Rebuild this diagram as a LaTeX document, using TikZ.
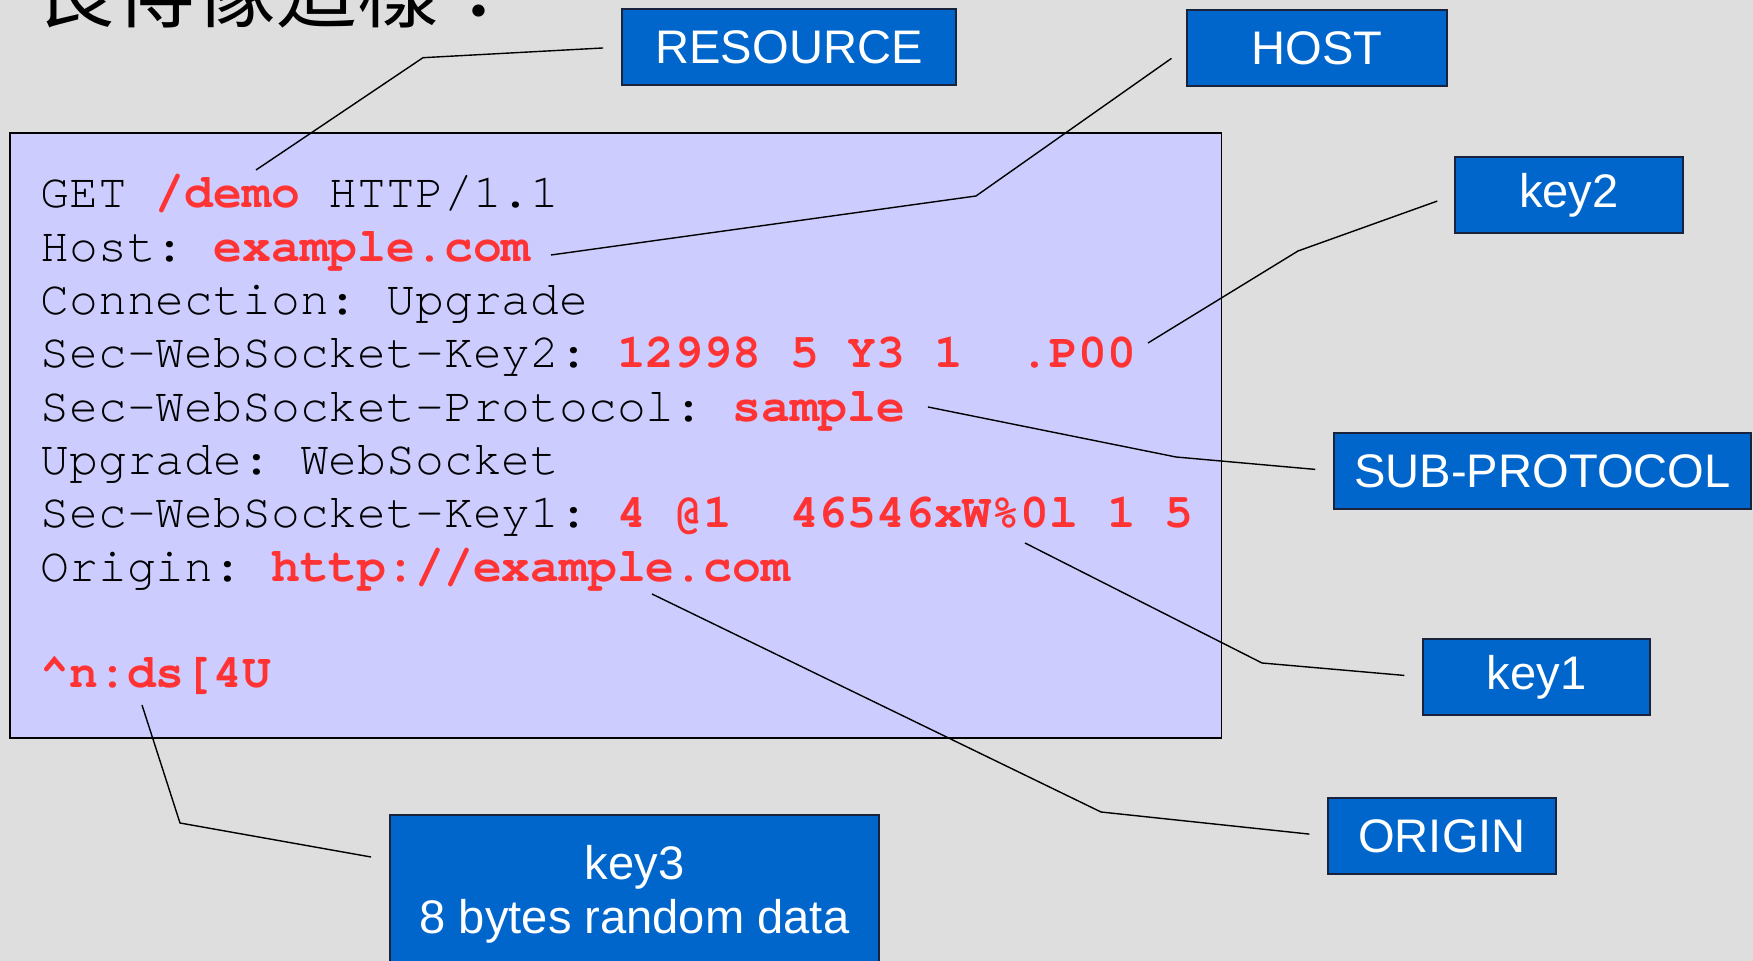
\documentclass[tikz,border=0pt]{standalone}
\usepackage{fontspec}
\setmainfont{Liberation Sans}
\setmonofont{TeX Gyre Cursor}
\newfontfamily\cjk{Noto Sans CJK TC}
\definecolor{slidebg}{RGB}{222,222,222}
\definecolor{codebg}{RGB}{204,204,255}
\definecolor{tagblue}{RGB}{0,102,204}
\definecolor{tagedge}{RGB}{25,35,60}
\definecolor{hdrred}{RGB}{255,51,51}
\newcommand{\val}[1]{\textcolor{hdrred}{\bfseries #1}}
\tikzset{code/.style = {anchor=base west, inner sep=0pt,
                        font=\ttfamily\fontsize{13.66}{15.2}\selectfont},
         tag/.style = {draw=tagedge, fill=tagblue, text=white, inner sep=0pt,
                       minimum height=0.76cm, font=\fontsize{13.4}{15.4}\selectfont},
         callout/.style = {line width=0.4pt, shorten >=0.18cm}}

\begin{document}
\begin{tikzpicture}[x=0.01cm, y=-0.01cm]
    \useasboundingbox (0,0) rectangle (1753,961);
    \fill[slidebg] (0,0) rectangle (1753,961);

    \node[anchor=base west, inner sep=0pt, font=\cjk\fontsize{23}{27}\selectfont] (title) at (33,22) {長得像這樣：};

    \node[draw=black, line width=0.5pt, fill=codebg, inner sep=0pt, anchor=north west,
          minimum width=12.11cm, minimum height=6.05cm] (req) at (9,132) {};

    \node[code] (lget) at (40,208) {GET \val{/demo} HTTP/1.1};
    \node[code] (lhost) at (40,261.3) {Host: \val{example.com}};
    \node[code] (lconn) at (40,314.7) {Connection: Upgrade};
    \node[code] (lkey2) at (40,368) {Sec-WebSocket-Key2: \val{12998 5 Y3 1~~.P00}};
    \node[code] (lproto) at (40,421.3) {Sec-WebSocket-Protocol: \val{sample}};
    \node[code] (lupgrade) at (40,474.7) {Upgrade: WebSocket};
    \node[code] (lkey1) at (40,528) {Sec-WebSocket-Key1: \val{4 @1~~46546xW\%0l 1 5}};
    \node[code] (lorigin) at (40,581.3) {Origin: \val{http://example.com}};
    \node[code] (lkey3) at (40,688) {\val{\textasciicircum n:ds[4U}};

    \node[tag, minimum width=3.34cm] (resource) at (789,47) {RESOURCE};
    \node[tag, minimum width=2.60cm] (host) at (1317,48) {HOST};
    \node[tag, minimum width=2.28cm] (key2) at (1569,195) {key2};
    \node[tag, minimum width=4.17cm] (subproto) at (1542.5,471) {SUB-PROTOCOL};
    \node[tag, minimum width=2.27cm] (key1) at (1536.5,677) {key1};
    \node[tag, minimum width=2.28cm] (origin) at (1442,836) {ORIGIN};
    \node[tag, minimum width=4.89cm, minimum height=1.58cm, align=center] (key3) at (634.5,894)
        {key3\\8 bytes random data};

    \coordinate (cres) at (256,170);
    \coordinate (chost) at (551,255);
    \coordinate (ckey2) at (1148,343);
    \coordinate (cproto) at (928,407);
    \coordinate (ckey1) at (1025,543);
    \coordinate (corigin) at (652,594);
    \coordinate (ckey3) at (142,705);
    \coordinate (k3end) at (371,857);

    \draw[callout] (cres) -- (423,57.7) -- (resource.west);
    \draw[callout] (chost) -- (976,196) -- (host.west);
    \draw[callout] (ckey2) -- (1298,251) -- (key2.west);
    \draw[callout] (cproto) -- (1176,457) -- (subproto.west);
    \draw[callout] (ckey1) -- (1262,663) -- (key1.west);
    \draw[callout] (corigin) -- (1101,812) -- (origin.west);
    \draw[line width=0.4pt] (ckey3) -- (180,823) -- (k3end);
\end{tikzpicture}
\end{document}
